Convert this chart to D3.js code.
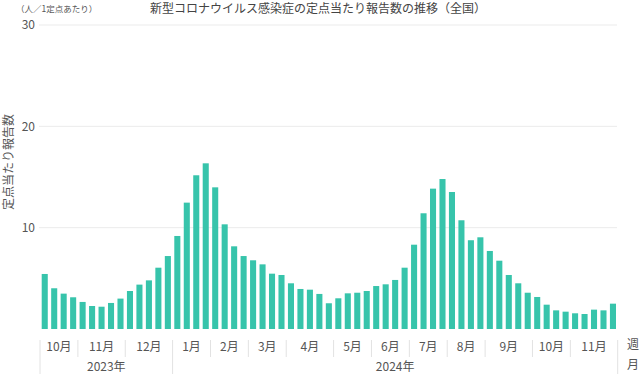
<!DOCTYPE html>
<html>
<head>
<meta charset="utf-8">
<script src="https://cdn.jsdelivr.net/npm/d3@7"></script>
<style>
  body { margin: 0; background: #fff; }
  svg { display: block; font-family: "Noto Sans CJK JP", "Noto Sans", sans-serif; }
</style>
</head>
<body>
<svg width="640" height="374"></svg>
<script>
// weekly values, 2023 (Oct-Dec) then 2024 (Jan-Nov)
var values2023 = [5.43, 4.02, 3.49, 3.13, 2.67, 2.27, 2.2, 2.57, 3.0, 3.75, 4.38, 4.8, 6.05, 7.2];
var values2024 = [9.18, 12.47, 15.17, 16.35, 13.98, 10.33, 8.16, 7.2, 6.78, 6.38,
                  5.46, 5.33, 4.51, 3.95, 3.88, 3.46, 2.54, 3.03, 3.52, 3.58,
                  3.75, 4.24, 4.41, 4.84, 6.05, 8.32, 11.42, 13.85, 14.8, 13.52,
                  10.73, 8.76, 9.05, 7.7, 6.74, 5.33, 4.51, 3.58, 3.16, 2.4,
                  1.84, 1.71, 1.55, 1.48, 1.91, 1.84, 2.5];

var months2023 = ["10月", "11月", "12月"];
var weeks2023 = [4, 5, 5];
var months2024 = ["1月", "2月", "3月", "4月", "5月", "6月", "7月", "8月", "9月", "10月", "11月"];
var weeks2024 = [4, 4, 4, 5, 4, 4, 4, 4, 5, 4, 5];
var years = ["2023年", "2024年"];
var yTicks = [10, 20, 30];

var title = "新型コロナウイルス感染症の定点当たり報告数の推移（全国）";
var unitLabel = "（人／1定点あたり）";
var yTitle = "定点当たり報告数";

var svg = d3.select("svg");

var values = values2023.concat(values2024);

var x = d3.scaleBand()
    .domain(d3.range(values.length))
    .range([40, 617.7])
    .paddingInner(0.36)
    .paddingOuter(0.18);

var y = d3.scaleLinear()
    .domain([0, 30])
    .range([329, 25]);

var gapHalf = x.step() * 0.36 / 2;
// left edge of the slot of week i (i may be one past the last week)
function edge(i) {
    if (i >= values.length) return x(values.length - 1) + x.bandwidth() + gapHalf;
    return x(i) - gapHalf;
}

// gridlines
svg.append("g")
    .selectAll("line")
    .data(yTicks)
    .enter().append("line")
    .attr("x1", 39)
    .attr("x2", 617)
    .attr("y1", d => y(d))
    .attr("y2", d => y(d))
    .style("stroke", "#ebebeb")
    .style("stroke-width", 1);

// y tick labels
svg.append("g")
    .selectAll("text")
    .data(yTicks)
    .enter().append("text")
    .attr("x", 35)
    .attr("y", d => y(d))
    .attr("dy", "0.35em")
    .attr("text-anchor", "end")
    .style("font-size", "12px")
    .style("fill", "#555")
    .text(d => d);

// bars
svg.append("g")
    .selectAll("rect")
    .data(values)
    .enter().append("rect")
    .attr("x", (d, i) => x(i))
    .attr("width", x.bandwidth())
    .attr("y", d => y(d))
    .attr("height", d => y(0) - y(d))
    .attr("fill", "#37c4ab");

// month groups
var groups = [];
var start = 0;
months2023.forEach((m, k) => {
    groups.push({ label: m, start: start, n: weeks2023[k] });
    start += weeks2023[k];
});
var yearBreak = start;
months2024.forEach((m, k) => {
    groups.push({ label: m, start: start, n: weeks2024[k] });
    start += weeks2024[k];
});
var total = start;

var axis = svg.append("g");

axis.selectAll("text.month")
    .data(groups)
    .enter().append("text")
    .attr("class", "month")
    .attr("x", d => (edge(d.start) + edge(d.start + d.n)) / 2)
    .attr("y", 347)
    .attr("dy", "0.35em")
    .attr("text-anchor", "middle")
    .style("font-size", "12px")
    .style("fill", "#555")
    .text(d => d.label);

// short separators between months
axis.selectAll("line.msep")
    .data(groups.filter(d => d.start !== 0 && d.start !== yearBreak))
    .enter().append("line")
    .attr("class", "msep")
    .attr("x1", d => edge(d.start))
    .attr("x2", d => edge(d.start))
    .attr("y1", 340)
    .attr("y2", 357)
    .style("stroke", "#e2e2e2");

// tall separators at year edges
axis.selectAll("line.ysep")
    .data([0, yearBreak, total])
    .enter().append("line")
    .attr("class", "ysep")
    .attr("x1", d => edge(d))
    .attr("x2", d => edge(d))
    .attr("y1", 340)
    .attr("y2", 374)
    .style("stroke", "#e2e2e2");

axis.selectAll("text.year")
    .data([[0, yearBreak], [yearBreak, total]])
    .enter().append("text")
    .attr("class", "year")
    .attr("x", d => (edge(d[0]) + edge(d[1])) / 2)
    .attr("y", 367)
    .attr("dy", "0.35em")
    .attr("text-anchor", "middle")
    .style("font-size", "12px")
    .style("fill", "#555")
    .text((d, i) => years[i]);

// 週 / 月 key at the right
axis.append("text")
    .attr("x", 627)
    .attr("y", 345)
    .attr("dy", "0.35em")
    .style("font-size", "12px")
    .style("fill", "#555")
    .text("週");
axis.append("text")
    .attr("x", 627)
    .attr("y", 365)
    .attr("dy", "0.35em")
    .style("font-size", "12px")
    .style("fill", "#555")
    .text("月");

// titles
svg.append("text")
    .attr("x", 318)
    .attr("y", 9)
    .attr("dy", "0.35em")
    .attr("text-anchor", "middle")
    .style("font-size", "12px")
    .style("fill", "#444")
    .text(title);

svg.append("text")
    .attr("x", 16)
    .attr("y", 9)
    .attr("dy", "0.35em")
    .style("font-size", "8.5px")
    .style("fill", "#555")
    .text(unitLabel);

svg.append("text")
    .attr("transform", "translate(9,162) rotate(-90)")
    .attr("dy", "0.35em")
    .attr("text-anchor", "middle")
    .style("font-size", "12px")
    .style("fill", "#555")
    .text(yTitle);
</script>
</body>
</html>
